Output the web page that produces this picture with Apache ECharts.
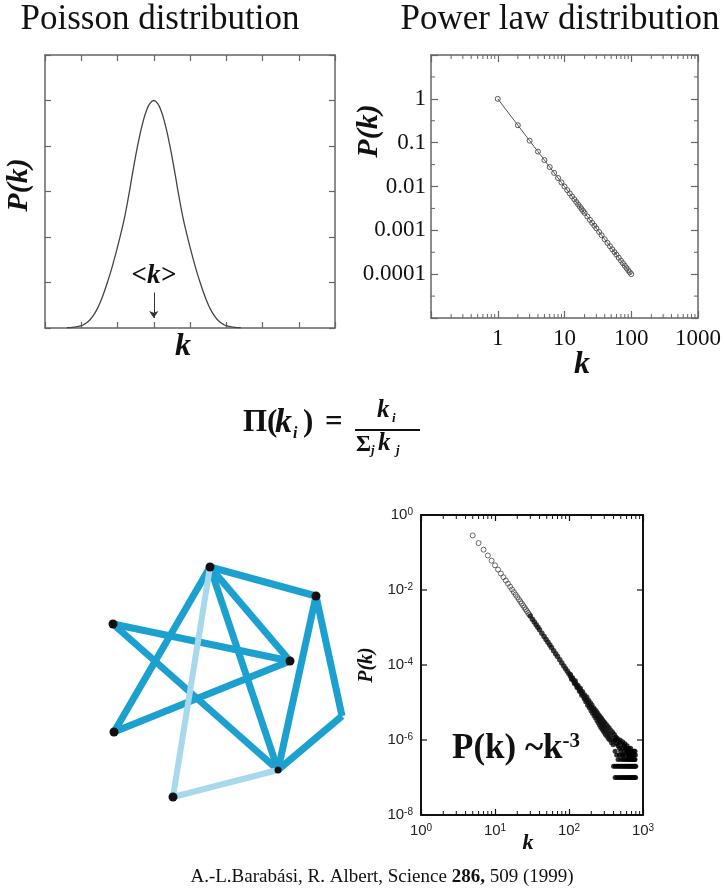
<!DOCTYPE html>
<html>
<head>
<meta charset="utf-8">
<script src="https://cdn.jsdelivr.net/npm/echarts@6/dist/echarts.min.js"></script>
<style>
  html, body { margin: 0; padding: 0; background: #fff; }
  #chart { width: 724px; height: 893px; }
</style>
</head>
<body>
<div id="chart"></div>
<script>
// ---- Poisson (random network) degree distribution ----
const poissonK = [0.6, 0.8, 1.0, 1.1, 1.2, 1.3, 1.4, 1.5, 1.6, 1.7, 1.8, 1.9, 2.0, 2.1, 2.2, 2.3, 2.4, 2.5, 2.6, 2.7, 2.8, 2.9, 3.0,
                  3.1, 3.2, 3.3, 3.4, 3.5, 3.6, 3.7, 3.8, 3.9, 4.0, 4.1, 4.2, 4.3, 4.4, 4.5, 4.6, 4.7, 4.8, 4.9, 5.0, 5.2, 5.4];
const poissonP = [0.006, 0.02, 0.05, 0.09, 0.15, 0.24, 0.36, 0.52, 0.72, 0.95, 1.2, 1.48, 1.78, 2.1, 2.45, 2.87, 3.33, 3.78, 4.18, 4.52, 4.78, 4.94, 5.0,
                  4.94, 4.78, 4.52, 4.18, 3.78, 3.33, 2.87, 2.45, 2.1, 1.78, 1.48, 1.2, 0.95, 0.72, 0.52, 0.36, 0.24, 0.15, 0.09, 0.05, 0.02, 0.006];
const meanK = 3;

// ---- Power law distribution, P(k) ~ k^-2 ----
const powerK = [1, 2, 3, 4, 5, 6, 7, 8, 9, 10, 11, 12, 13, 14, 15, 16, 17, 18, 19, 20, 22, 24, 26, 28, 30, 33, 36, 40, 44, 48, 52, 56, 60, 65, 70, 75, 80, 85, 90, 95, 100];
const powerP = [1, 0.25, 0.1111, 0.0625, 0.04, 0.02778, 0.02041, 0.01563, 0.01235, 0.01, 0.008264, 0.006944, 0.005917, 0.005102, 0.004444,
                0.003906, 0.00346, 0.003086, 0.00277, 0.0025, 0.002066, 0.001736, 0.001479, 0.001276, 0.001111, 0.000918, 0.000772, 0.000625,
                0.000517, 0.000434, 0.00037, 0.000319, 0.000278, 0.000237, 0.000204, 0.000178, 0.000156, 0.000138, 0.000123, 0.000111, 0.0001];
const powerXLabels = { 0: '1', 1: '10', 2: '100', 3: '1000' };
const powerYLabels = { 0: '1', '-1': '0.1', '-2': '0.01', '-3': '0.001', '-4': '0.0001' };
const powerXMinor = [0.2, 0.3, 0.4, 0.5, 0.6, 0.7, 0.8, 0.9, 2, 3, 4, 5, 6, 7, 8, 9, 20, 30, 40, 50, 60, 70, 80, 90, 200, 300, 400, 500, 600, 700, 800, 900];
const powerYMinor = [3.16, 0.316, 0.0316, 0.00316, 0.000316, 0.0000316];

// ---- Preferential attachment network ----
const nodeNames = ['A', 'B', 'C', 'D', 'E', 'F', 'G', 'H'];
const nodeX = [110, 216, 13, 190, 14, 242, 178, 73];
const nodeY = [243, 214, 186, 149, 78, 94, 40, 13];
const nodeSize = [9, 9, 9, 9, 9, 0, 7, 9];
const edgeFrom = [0, 0, 0, 0, 2, 2, 4, 1, 1, 5, 0, 6];
const edgeTo   = [1, 3, 6, 4, 3, 6, 3, 6, 5, 6, 7, 7];
const edgeNew  = [false, false, false, false, false, false, false, false, false, false, true, true];

// ---- Scale-free model degree distribution, P(k) ~ k^-3 ----
// low degrees: individually resolved points
const lowK = [5, 6, 7, 8, 9, 10, 11, 12, 13, 14, 15, 16, 17, 18, 19, 20, 21, 22, 23, 24, 25, 26, 27, 28, 29];
const lowP = [0.2857, 0.1786, 0.119, 0.0833, 0.0606, 0.04545, 0.03497, 0.02747, 0.02198, 0.01786, 0.01471, 0.01225, 0.01032, 0.00877,
              0.00752, 0.00649, 0.00565, 0.00494, 0.00435, 0.00385, 0.00342, 0.00305, 0.00274, 0.00246, 0.00223];
// intermediate degrees: overlapping points forming the dense band
const bandK = [30, 32, 34, 36, 38, 40, 43, 46, 49, 52, 55, 58, 62, 66, 70, 75, 80, 85, 90, 95, 100, 105, 110, 115, 120, 125, 130, 135,
               140, 145, 150, 158, 165, 172, 180, 190, 200, 210, 220, 230, 240, 250, 260, 270, 280, 290, 300, 315, 330, 345, 360, 380, 400];
const bandP = [0.00202, 0.00167, 0.0014, 0.00119, 0.00101, 0.00087, 0.000705, 0.000578, 0.00048, 0.000403, 0.000342, 0.000292, 0.00024,
               0.0002, 0.000168, 0.000137, 0.000113, 0.0000943, 0.0000796, 0.0000678, 0.0000582, 0.0000503, 0.0000439, 0.0000384,
               0.0000339, 0.00003, 0.0000267, 0.00002385, 0.0000214, 0.00001927, 0.0000174, 0.00001492, 0.0000131, 0.00001159, 0.0000101,
               0.00000861, 0.00000739, 0.00000639, 0.00000556, 0.00000487, 0.00000429, 0.00000379, 0.00000337, 0.00000301, 0.0000027,
               0.00000243, 0.0000022, 0.0000019, 0.00000166, 0.00000145, 0.00000128, 0.00000109, 0.00000094];
const spreadK = [105, 108, 112, 118, 122, 128, 133, 138, 143, 148, 153, 160, 163, 168, 175, 178, 185, 188, 195, 198, 205, 208, 215, 218,
                 225, 228, 235, 238, 245, 248, 255, 258, 265, 268, 275, 278, 285, 288, 295, 298, 305, 310, 320, 325, 335, 340, 350, 355,
                 370, 375, 390, 395];
const spreadP = [5.6e-5, 4.2e-5, 4.6e-5, 3.2e-5, 3.8e-5, 2.5e-5, 2.85e-5, 2.0e-5, 2.4e-5, 1.55e-5, 1.95e-5, 1.25e-5, 1.6e-5, 1.05e-5,
                 1.4e-5, 8.5e-6, 1.15e-5, 7.2e-6, 9.8e-6, 6.0e-6, 8.6e-6, 5.2e-6, 7.3e-6, 4.4e-6, 6.5e-6, 3.9e-6, 5.8e-6, 3.3e-6,
                 5.2e-6, 2.9e-6, 4.6e-6, 2.5e-6, 4.2e-6, 2.2e-6, 3.8e-6, 2.0e-6, 3.4e-6, 1.8e-6, 3.1e-6, 1.6e-6, 2.9e-6, 1.4e-6,
                 2.6e-6, 1.25e-6, 2.3e-6, 1.1e-6, 2.1e-6, 1.0e-6, 1.8e-6, 8.5e-7, 1.6e-6, 7.5e-7];
// highest degrees: counts of one, two, three... nodes per degree
const tailK = [410, 420, 430, 440, 450, 460, 470, 480, 490, 500, 510, 520, 530, 540, 550, 560, 570, 580, 590, 600, 610, 620, 630, 640,
               650, 660, 670, 680, 690, 700, 710, 720, 730, 740, 750, 760, 770, 780,
               420, 440, 460, 480, 500, 520, 540, 560, 580, 600, 620, 640, 660, 680, 700, 720, 740, 760, 780, 790,
               400, 420, 440, 460, 480, 500, 520, 540, 560, 580, 600, 620, 640, 660, 680, 700, 720, 740, 760, 780, 800,
               420, 445, 470, 495, 520, 545, 570, 595, 620, 645, 670, 695, 720, 745, 770, 795];
const tailP = [1.4e-6, 1.0e-6, 1.2e-6, 8e-7, 1.1e-6, 7e-7, 9e-7, 6e-7, 1.0e-6, 5e-7, 8e-7, 6e-7, 9e-7, 4e-7, 7e-7, 5e-7, 8e-7, 4e-7,
               6e-7, 3e-7, 7e-7, 5e-7, 4e-7, 6e-7, 3e-7, 5e-7, 4e-7, 6e-7, 3e-7, 5e-7, 4e-7, 3e-7, 5e-7, 4e-7, 3e-7, 4e-7, 3e-7, 5e-7,
               5e-7, 4e-7, 3e-7, 4e-7, 3e-7, 4e-7, 3e-7, 3e-7, 6e-7, 5e-7, 3e-7, 4e-7, 3e-7, 4e-7, 3e-7, 5e-7, 3e-7, 5e-7, 3e-7, 4e-7,
               2e-7, 2e-7, 2e-7, 2e-7, 2e-7, 2e-7, 2e-7, 2e-7, 2e-7, 2e-7, 2e-7, 2e-7, 2e-7, 2e-7, 2e-7, 2e-7, 2e-7, 2e-7, 2e-7, 2e-7, 2e-7,
               1e-7, 1e-7, 1e-7, 1e-7, 1e-7, 1e-7, 1e-7, 1e-7, 1e-7, 1e-7, 1e-7, 1e-7, 1e-7, 1e-7, 1e-7, 1e-7];
const baYMajor = [1, 1e-2, 1e-4, 1e-6, 1e-8];
const baXMinor = [2, 3, 4, 5, 6, 7, 8, 9, 20, 30, 40, 50, 60, 70, 80, 90, 200, 300, 400, 500, 600, 700, 800, 900];

const zip = (a, b) => a.map((v, i) => [v, b[i]]);
const SERIF = '"Liberation Serif", "Times New Roman", serif';
const SANS = '"Liberation Sans", Arial, sans-serif';
const EDGE_DARK = '#1ca0d0';
const EDGE_LIGHT = '#a7d8ec';

const chart = echarts.init(document.getElementById('chart'), null, { renderer: 'canvas' });

// short inward tick marks along the top and bottom frame edges
function xMinorTicks(len, color) {
  return function (params, api) {
    const cs = params.coordSys;
    const x = api.coord([api.value(0), api.value(1)])[0];
    const st = { stroke: color, lineWidth: 1 };
    return { type: 'group', children: [
      { type: 'line', shape: { x1: x, y1: cs.y + cs.height, x2: x, y2: cs.y + cs.height - len }, style: st },
      { type: 'line', shape: { x1: x, y1: cs.y, x2: x, y2: cs.y + len }, style: st }
    ] };
  };
}
// short inward tick marks along the left and right frame edges
function yMinorTicks(len, color, width) {
  return function (params, api) {
    const cs = params.coordSys;
    const y = api.coord([api.value(0), api.value(1)])[1];
    const st = { stroke: color, lineWidth: width || 1 };
    return { type: 'group', children: [
      { type: 'line', shape: { x1: cs.x, y1: y, x2: cs.x + len, y2: y }, style: st },
      { type: 'line', shape: { x1: cs.x + cs.width, y1: y, x2: cs.x + cs.width - len, y2: y }, style: st }
    ] };
  };
}

const frame = (color, width) => ({ show: true, onZero: false, lineStyle: { color: color, width: width } });
const inTick = (color, len, width) => ({ show: true, inside: true, length: len, lineStyle: { color: color, width: width || 1 } });
const baLabelRich = {
  b: { fontFamily: SANS, fontSize: 15, color: '#222' },
  s: { fontFamily: SANS, fontSize: 10, color: '#222', verticalAlign: 'top', padding: [0, 0, 6, 0] }
};
const expOf = v => Math.round(Math.log10(v));
const ring = (color, width) => ({ color: 'rgba(0,0,0,0)', borderColor: color, borderWidth: width });

const option = {
  animation: false,
  backgroundColor: '#fff',
  grid: [
    { left: 45, top: 55, width: 290, height: 273 },
    { left: 431, top: 55, width: 284, height: 263 },
    { left: 100, top: 550, width: 250, height: 260 },
    { left: 421, top: 515, width: 222, height: 300 }
  ],
  xAxis: [
    { gridIndex: 0, type: 'value', min: 0, max: 8, interval: 1, axisLine: frame('#666', 1.5), axisTick: inTick('#666', 6, 1.2), axisLabel: { show: false }, splitLine: { show: false } },
    { gridIndex: 0, type: 'value', position: 'top', min: 0, max: 8, interval: 1, axisLine: frame('#666', 1.5), axisTick: inTick('#666', 6, 1.2), axisLabel: { show: false }, splitLine: { show: false } },
    { gridIndex: 1, type: 'log', logBase: 10, min: 0.1, max: 1000, axisLine: frame('#666', 1.5), axisTick: inTick('#666', 7, 1.2),
      axisLabel: { margin: 9, fontFamily: SERIF, fontSize: 23, color: '#111', formatter: v => powerXLabels[expOf(v)] || '' }, splitLine: { show: false } },
    { gridIndex: 1, type: 'log', logBase: 10, position: 'top', min: 0.1, max: 1000, axisLine: frame('#666', 1.5), axisTick: inTick('#666', 7, 1.2), axisLabel: { show: false }, splitLine: { show: false } },
    { gridIndex: 2, type: 'value', min: 0, max: 250, show: false },
    { gridIndex: 3, type: 'log', logBase: 10, min: 1, max: 1000, axisLine: frame('#111', 2), axisTick: inTick('#111', 6, 1.2),
      axisLabel: { margin: 8, rich: baLabelRich, formatter: v => '{b|10}{s|' + expOf(v) + '}' }, splitLine: { show: false } },
    { gridIndex: 3, type: 'log', logBase: 10, position: 'top', min: 1, max: 1000, axisLine: frame('#111', 2), axisTick: inTick('#111', 6, 1.2), axisLabel: { show: false }, splitLine: { show: false } }
  ],
  yAxis: [
    { gridIndex: 0, type: 'value', min: 0, max: 6, interval: 1, axisLine: frame('#666', 1.5), axisTick: inTick('#666', 6, 1.2), axisLabel: { show: false }, splitLine: { show: false } },
    { gridIndex: 0, type: 'value', position: 'right', min: 0, max: 6, interval: 1, axisLine: frame('#666', 1.5), axisTick: inTick('#666', 6, 1.2), axisLabel: { show: false }, splitLine: { show: false } },
    { gridIndex: 1, type: 'log', logBase: 10, min: 1e-5, max: 10, axisLine: frame('#666', 1.5), axisTick: inTick('#666', 7, 1.2),
      axisLabel: { margin: 5, fontFamily: SERIF, fontSize: 23, color: '#111', formatter: v => powerYLabels[expOf(v)] || '' }, splitLine: { show: false } },
    { gridIndex: 1, type: 'log', logBase: 10, position: 'right', min: 1e-5, max: 10, axisLine: frame('#666', 1.5), axisTick: inTick('#666', 7, 1.2), axisLabel: { show: false }, splitLine: { show: false } },
    { gridIndex: 2, type: 'value', min: 0, max: 260, show: false },
    { gridIndex: 3, type: 'log', logBase: 10, min: 1e-8, max: 1, axisLine: frame('#111', 2), axisTick: { show: false },
      axisLabel: { margin: 8, rich: baLabelRich, formatter: v => (expOf(v) % 2 === 0 ? '{b|10}{s|' + expOf(v) + '}' : '') }, splitLine: { show: false } },
    { gridIndex: 3, type: 'log', logBase: 10, position: 'right', min: 1e-8, max: 1, axisLine: frame('#111', 2), axisTick: { show: false }, axisLabel: { show: false }, splitLine: { show: false } }
  ],
  series: [
    {
      type: 'line', xAxisIndex: 0, yAxisIndex: 0, data: zip(poissonK, poissonP), smooth: true, showSymbol: false,
      lineStyle: { color: '#444', width: 1.3 },
      markLine: {
        silent: true, symbol: ['none', 'arrow'], symbolSize: 7,
        lineStyle: { color: '#333', width: 1, type: 'solid' },
        label: { show: true, position: 'start', distance: 3, formatter: '<k>', fontFamily: SERIF, fontSize: 27, fontWeight: 'bold', fontStyle: 'italic', color: '#111' },
        data: [[{ coord: [meanK, 0.78] }, { coord: [meanK, 0.22] }]]
      }
    },
    {
      type: 'line', xAxisIndex: 2, yAxisIndex: 2, data: zip(powerK, powerP), symbol: 'circle', symbolSize: 5,
      itemStyle: ring('#555', 1), lineStyle: { color: '#555', width: 1 }
    },
    { type: 'custom', xAxisIndex: 2, yAxisIndex: 2, data: powerXMinor.map(v => [v, 1]), renderItem: xMinorTicks(4, '#666'), silent: true },
    { type: 'custom', xAxisIndex: 2, yAxisIndex: 2, data: powerYMinor.map(v => [1, v]), renderItem: yMinorTicks(4, '#666'), silent: true },
    {
      type: 'graph', coordinateSystem: 'cartesian2d', xAxisIndex: 4, yAxisIndex: 4, layout: 'none', silent: true,
      data: nodeNames.map((n, i) => ({ name: n, value: [nodeX[i], nodeY[i]], symbolSize: nodeSize[i] })),
      links: edgeFrom.map((s, i) => ({ source: s, target: edgeTo[i], lineStyle: { color: edgeNew[i] ? EDGE_LIGHT : EDGE_DARK, width: edgeNew[i] ? 6 : 7 } })),
      symbol: 'circle', itemStyle: { color: '#111' }, label: { show: false },
      lineStyle: { opacity: 1, curveness: 0 }, emphasis: { disabled: true }
    },
    { type: 'scatter', xAxisIndex: 5, yAxisIndex: 5, data: zip(lowK, lowP), symbol: 'circle', symbolSize: 5, itemStyle: ring('#444', 1), silent: true },
    { type: 'scatter', xAxisIndex: 5, yAxisIndex: 5, data: zip(bandK, bandP), symbol: 'circle', symbolSize: 5.5, itemStyle: { color: '#111' }, silent: true },
    { type: 'scatter', xAxisIndex: 5, yAxisIndex: 5, data: zip(spreadK, spreadP), symbol: 'circle', symbolSize: 5, itemStyle: { color: '#111' }, silent: true },
    { type: 'scatter', xAxisIndex: 5, yAxisIndex: 5, data: zip(tailK, tailP), symbol: 'circle', symbolSize: 5, itemStyle: { color: '#000' }, silent: true },
    { type: 'custom', xAxisIndex: 5, yAxisIndex: 5, data: baXMinor.map(v => [v, 1e-4]), renderItem: xMinorTicks(4, '#111'), silent: true },
    { type: 'custom', xAxisIndex: 5, yAxisIndex: 5, data: baYMajor.map(v => [1, v]), renderItem: yMinorTicks(6, '#111', 1.2), silent: true }
  ],
  graphic: [
    { type: 'text', x: 160, y: 20, style: { text: 'Poisson distribution', font: '35px ' + SERIF, fill: '#111', textAlign: 'center', textVerticalAlign: 'middle' } },
    { type: 'text', x: 560, y: 20, style: { text: 'Power law distribution', font: '35px ' + SERIF, fill: '#111', textAlign: 'center', textVerticalAlign: 'middle' } },
    { type: 'text', x: 19, y: 185, rotation: Math.PI / 2, style: { text: 'P(k)', font: 'italic bold 30px ' + SERIF, fill: '#111', textAlign: 'center', textVerticalAlign: 'middle' } },
    { type: 'text', x: 183, y: 347, style: { text: 'k', font: 'italic bold 32px ' + SERIF, fill: '#111', textAlign: 'center', textVerticalAlign: 'middle' } },
    { type: 'text', x: 369, y: 131, rotation: Math.PI / 2, style: { text: 'P(k)', font: 'italic bold 30px ' + SERIF, fill: '#111', textAlign: 'center', textVerticalAlign: 'middle' } },
    { type: 'text', x: 582, y: 365, style: { text: 'k', font: 'italic bold 32px ' + SERIF, fill: '#111', textAlign: 'center', textVerticalAlign: 'middle' } },
    // preferential attachment rule
    { type: 'text', x: 243, y: 423, style: { text: 'Π(', font: 'bold 31px ' + SERIF, fill: '#111', textAlign: 'left', textVerticalAlign: 'middle' } },
    { type: 'text', x: 275, y: 423, style: { text: 'k', font: 'italic bold 34px ' + SERIF, fill: '#111', textAlign: 'left', textVerticalAlign: 'middle' } },
    { type: 'text', x: 293, y: 434, style: { text: 'i', font: 'italic bold 16px ' + SERIF, fill: '#111', textAlign: 'left', textVerticalAlign: 'middle' } },
    { type: 'text', x: 303, y: 423, style: { text: ')', font: 'bold 31px ' + SERIF, fill: '#111', textAlign: 'left', textVerticalAlign: 'middle' } },
    { type: 'text', x: 325, y: 423, style: { text: '=', font: 'bold 31px ' + SERIF, fill: '#111', textAlign: 'left', textVerticalAlign: 'middle' } },
    { type: 'line', shape: { x1: 355, y1: 430, x2: 420, y2: 430 }, style: { stroke: '#111', lineWidth: 2 } },
    { type: 'text', x: 377, y: 411, style: { text: 'k', font: 'italic bold 25px ' + SERIF, fill: '#111', textAlign: 'left', textVerticalAlign: 'middle' } },
    { type: 'text', x: 392, y: 419, style: { text: 'i', font: 'italic bold 13px ' + SERIF, fill: '#111', textAlign: 'left', textVerticalAlign: 'middle' } },
    { type: 'text', x: 356, y: 445, style: { text: 'Σ', font: 'bold 23px ' + SERIF, fill: '#111', textAlign: 'left', textVerticalAlign: 'middle' } },
    { type: 'text', x: 371, y: 451, style: { text: 'j', font: 'italic bold 13px ' + SERIF, fill: '#111', textAlign: 'left', textVerticalAlign: 'middle' } },
    { type: 'text', x: 378, y: 444, style: { text: 'k', font: 'italic bold 25px ' + SERIF, fill: '#111', textAlign: 'left', textVerticalAlign: 'middle' } },
    { type: 'text', x: 396, y: 451, style: { text: 'j', font: 'italic bold 13px ' + SERIF, fill: '#111', textAlign: 'left', textVerticalAlign: 'middle' } },
    // scale-free panel annotations
    { type: 'text', x: 367, y: 665, rotation: Math.PI / 2, style: { text: 'P(k)', font: 'italic bold 20px ' + SERIF, fill: '#111', textAlign: 'center', textVerticalAlign: 'middle' } },
    { type: 'text', x: 528, y: 843, style: { text: 'k', font: 'italic bold 22px ' + SERIF, fill: '#111', textAlign: 'center', textVerticalAlign: 'middle' } },
    { type: 'text', x: 452, y: 749, style: { text: '{b|P(k) ~k}{s|-3}', textAlign: 'left', textVerticalAlign: 'middle',
        rich: { b: { font: 'bold 35px ' + SERIF, fill: '#111' }, s: { font: 'bold 21px ' + SERIF, fill: '#111', verticalAlign: 'top' } } } },
    // reference line
    { type: 'text', x: 382, y: 877, style: { text: '{n|A.-L.Barabási, R. Albert, Science }{b|286,}{n| 509 (1999)}', textAlign: 'center', textVerticalAlign: 'middle',
        rich: { n: { font: '19px ' + SERIF, fill: '#111' }, b: { font: 'bold 19px ' + SERIF, fill: '#111' } } } }
  ]
};

chart.setOption(option);
</script>
</body>
</html>
